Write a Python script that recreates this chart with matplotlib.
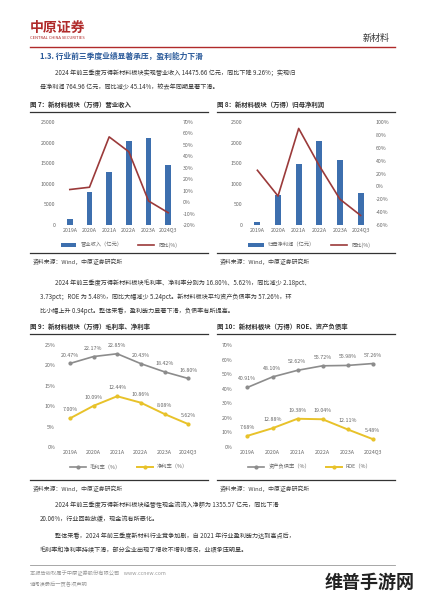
import matplotlib
matplotlib.use("Agg")
import matplotlib.pyplot as plt
from matplotlib.lines import Line2D
plt.rcParams['font.family'] = ['Noto Sans CJK SC', 'DejaVu Sans']

years = ["2019A", "2020A", "2021A", "2022A", "2023A", "2024Q3"]
revenue = [1400, 8000, 12800, 20500, 21200, 14476]
revenue_yoy = [11, 13, 57, 44, 1, -9.26]
profit = [80, 720, 1470, 2040, 1580, 765]
profit_yoy = [25, -15, 90, 32, -20, -45.14]
gross = [20.47, 22.17, 22.85, 20.43, 18.42, 16.80]
net = [7.00, 10.09, 12.44, 10.86, 8.08, 5.62]
debt = [40.91, 48.10, 52.62, 55.72, 55.98, 57.26]
roe = [7.68, 12.88, 19.38, 19.04, 12.11, 5.48]

W, H = 424, 600
fig = plt.figure(figsize=(W/100, H/100), dpi=100)
fig.patch.set_facecolor('white')
def fx(x): return x / W
def fy(y): return 1 - y / H
def txt(x, y, s, size=5, **kw):
    fig.text(fx(x), fy(y), s, fontsize=size, va='center', **kw)
def hline(y, x0, x1, lw=0.8, c='#333333'):
    fig.add_artist(Line2D([fx(x0), fx(x1)], [fy(y), fy(y)], lw=lw, color=c))

BLUE = '#3d6fae'; RED = '#9b3a3a'; GRAY = '#8c8c8c'; YEL = '#e8c22a'; TC = '#666666'

# header
txt(30, 28, "中原证券", 10, color='#b02a2a', weight='bold')
txt(30, 38, "CENTRAL CHINA SECURITIES", 3, color='#b02a2a')
txt(390, 38, "新材料", 6.5, ha='right', color='#333')
hline(47, 30, 395, 1.0, '#b02a2a')
txt(40, 56, "1.3. 行业前三季度业绩显著承压，盈利能力下滑", 5.6, color='#2a5a9a', weight='bold')
txt(55, 73, "2024 年前三季度万得新材料板块实现营业收入 14475.66 亿元，同比下降 9.26%；实现归", 4.4, color='#333')
txt(40, 87, "母净利润 764.96 亿元，同比减少 45.14%，较去年同期显著下滑。", 4.4, color='#333')

def frame(x0, x1, title, ytop, ybot, src):
    txt(x0, ytop, title, 4.6, weight='bold', color='#333')
    hline(ytop + 7, x0, x1, 0.9)
    hline(ybot, x0, x1, 0.9)
    txt(x0 + 3, ybot + 9, src, 4.2, color='#444')

frame(30, 208, "图 7：新材料板块（万得）营业收入", 105, 253, "资料来源：Wind，中原证券研究所")
frame(217, 395, "图 8：新材料板块（万得）归母净利润", 105, 253, "资料来源：Wind，中原证券研究所")

def style(ax):
    for s in ax.spines.values(): s.set_visible(False)
    ax.tick_params(length=0, labelsize=3.8, colors=TC, pad=2)

def barline(x0, x1, bars, line, ylim, ylim2, yt2, lab):
    ax = fig.add_axes([fx(x0), fy(225), fx(x1) - fx(x0), fy(122) - fy(225)])
    ax.bar(range(6), bars, width=0.3, color=BLUE, label=lab)
    ax.set_ylim(*ylim); ax.set_xlim(-0.6, 5.6)
    ax.set_xticks(range(6)); ax.set_xticklabels(years)
    style(ax)
    ax2 = ax.twinx()
    ax2.plot(range(6), line, color=RED, lw=1.2, label="同比(%)")
    ax2.set_ylim(*ylim2); ax2.set_yticks(yt2)
    ax2.set_yticklabels([f"{v}%" for v in yt2]); style(ax2)
    h = [ax.patches[0], ax2.lines[0]]
    ax.legend(h, [lab, "同比(%)"], loc='upper center', bbox_to_anchor=(0.5, -0.12),
              ncol=2, frameon=False, fontsize=3.8, handlelength=3, columnspacing=3,
              labelcolor=TC)

barline(58, 180, revenue, revenue_yoy, (0, 25000), (-20, 70), list(range(-20, 71, 10)), "营业收入（亿元）")
barline(245, 373, profit, profit_yoy, (0, 2500), (-60, 100), list(range(-60, 101, 20)), "归母净利润（亿元）")

txt(55, 283, "2024 年前三季度万得新材料板块毛利率、净利率分别为 16.80%、5.62%，同比减少 2.18pct、", 4.4, color='#333')
txt(40, 297, "3.73pct；ROE 为 5.48%，同比大幅减少 5.24pct。新材料板块平均资产负债率为 57.26%，环", 4.4, color='#333')
txt(40, 311, "比小幅上升 0.94pct。整体来看，盈利能力显著下滑，负债率有所提高。", 4.4, color='#333')

frame(30, 208, "图 9：新材料板块（万得）毛利率、净利率", 327, 480, "资料来源：Wind，中原证券研究所")
frame(217, 395, "图 10：新材料板块（万得）ROE、资产负债率", 327, 480, "资料来源：Wind，中原证券研究所")

def lines(x0, x1, a, b, ymax, step, la, lb):
    ax = fig.add_axes([fx(x0), fy(447), fx(x1) - fx(x0), fy(345) - fy(447)])
    ax.plot(range(6), a, color=GRAY, lw=1.2, marker='o', ms=2, label=la)
    ax.plot(range(6), b, color=YEL, lw=1.4, marker='o', ms=2, label=lb)
    for i in range(6):
        ax.annotate(f"{a[i]:.2f}%", (i, a[i]), xytext=(0, 5), textcoords='offset points',
                    ha='center', fontsize=3.8, color=TC)
        ax.annotate(f"{b[i]:.2f}%", (i, b[i]), xytext=(0, 5), textcoords='offset points',
                    ha='center', fontsize=3.8, color=TC)
    ax.set_ylim(0, ymax); ax.set_xlim(-0.5, 5.5)
    yt = list(range(0, ymax + 1, step))
    ax.set_yticks(yt); ax.set_yticklabels([f"{v}%" for v in yt])
    ax.set_xticks(range(6)); ax.set_xticklabels(years)
    style(ax)
    ax.legend(loc='upper center', bbox_to_anchor=(0.5, -0.12), ncol=2, frameon=False,
              fontsize=3.8, handlelength=3, columnspacing=3, labelcolor=TC)

lines(58, 200, gross, net, 25, 5, "毛利率（%）", "净利率（%）")
lines(235, 385, debt, roe, 70, 10, "资产负债率（%）", "ROE（%）")

txt(55, 505, "2024 年前三季度万得新材料板块经营性现金流流入净额为 1355.57 亿元，同比下滑", 4.4, color='#333')
txt(40, 519, "20.06%，行业回款放缓，现金流有所恶化。", 4.4, color='#333')
txt(55, 536, "整体来看，2024 年前三季度新材料行业竞争加剧，自 2021 年行业盈利能力达到高点后，", 4.4, color='#333')
txt(40, 550, "毛利率和净利率持续下滑，部分企业出现了增收不增利情况，业绩承压明显。", 4.4, color='#333')

hline(565, 30, 395, 0.6, '#999')
txt(30, 573, "本报告版权属于中原证券股份有限公司    www.ccnew.com", 3.8, color='#999')
txt(30, 584, "请阅读最后一页各项声明", 3.8, color='#999')
txt(415, 582, "维普手游网", 13, ha='right', color='#222', weight='bold')

fig.savefig("out.png", dpi=100, facecolor='white')
